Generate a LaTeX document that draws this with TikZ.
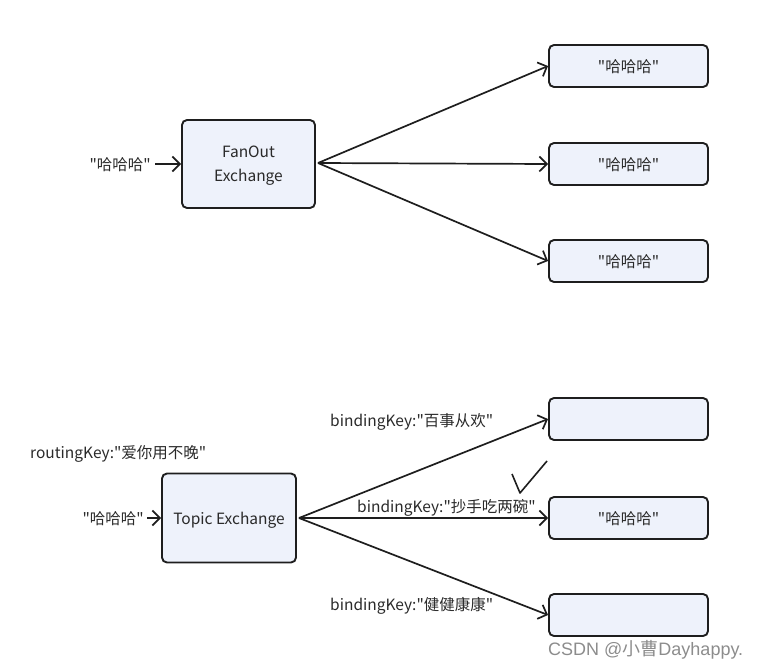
\documentclass[tikz,border=0pt]{standalone}
\usepackage{fontspec}
\setmainfont{Noto Sans CJK SC}[Ligatures=TeXOff]
\newfontfamily\wmfont{Liberation Sans}[Ligatures=TeXOff]
\newfontfamily\wmcjk{Noto Sans CJK SC}[Ligatures=TeXOff]
\usetikzlibrary{arrows.meta}
\definecolor{boxfill}{HTML}{EEF2FB}
\definecolor{boxline}{HTML}{1E1E1E}
\definecolor{txt}{HTML}{2A2A2A}
\tikzset{
  box/.style={draw=boxline, line width=1.9pt, fill=boxfill, rounded corners=5pt, minimum width=159pt, minimum height=42pt, inner sep=0pt, text=txt, font=\fontsize{15.5}{19}\selectfont},
  exbox/.style={box, align=center, font=\fontsize{15.5}{24}\selectfont},
  lbl/.style={inner sep=0pt, text=txt, font=\fontsize{15.5}{19}\selectfont},
  conn/.style={line width=1.7pt, draw=boxline, -{Straight Barb[length=7.5pt,width=15pt,line width=1.7pt]}},
}
\begin{document}
\begin{tikzpicture}[x=1pt,y=-1pt]
\useasboundingbox (0,0) rectangle (762,669);
% top part
\node[exbox, minimum width=133pt, minimum height=88pt] (fan) at (248.5,164) {};
\node[lbl, align=center, font=\fontsize{15.5}{24}\selectfont] (fantext) at (248.5,166) {FanOut\\Exchange};
\node[lbl, anchor=east] (in1) at (151,165) {"哈哈哈"};
\draw[conn] (in1.east) ++(4,-1) coordinate (in1s) -- (fan.west);
\node[box, text depth=-3pt] (q1) at (628.5,66) {"哈哈哈"};
\node[box, text depth=-3pt] (q2) at (628.5,164) {"哈哈哈"};
\node[box, text depth=-3pt] (q3) at (628.5,261) {"哈哈哈"};
\coordinate (fo) at (318,163);
\draw[conn] (fo) -- (q1.west);
\draw[conn] (fo) -- (q2.west);
\draw[conn] (fo) -- (q3.west);
% bottom part
\node[exbox, minimum width=134pt, minimum height=89pt, text depth=-3pt] (topic) at (229,518) {Topic Exchange};
\node[lbl, anchor=west] (rk) at (30,454) {routingKey:"爱你用不晚"};
\node[lbl, anchor=east] (in2) at (144,519) {"哈哈哈"};
\draw[conn] (in2.east) ++(3,-1) coordinate (in2s) -- (topic.west);
\node[box] (r1) at (628.5,419) {};
\node[box, text depth=-3pt] (r2) at (628.5,518) {"哈哈哈"};
\node[box] (r3) at (628.5,615) {};
\coordinate (to) at (299,518);
\draw[conn] (to) -- (r1.west);
\draw[conn] (to) -- (r2.west);
\draw[conn] (to) -- (r3.west);
\node[lbl, anchor=west] (b1) at (330,422) {bindingKey:"百事从欢"};
\node[lbl, anchor=west] (b2) at (357,508) {bindingKey:"抄手吃两碗"};
\node[lbl, anchor=west] (b3) at (330,606) {bindingKey:"健健康康"};
\draw[line width=1.6pt, draw=boxline, line join=round] (512,474) -- (520,493) -- (547,461);
\node[inner sep=0pt, anchor=west, text=black!45, font=\fontsize{18}{21}\selectfont\wmfont] (wm) at (548,650) {CSDN @{\wmcjk 小曹}Dayhappy.};
\end{tikzpicture}
\end{document}
